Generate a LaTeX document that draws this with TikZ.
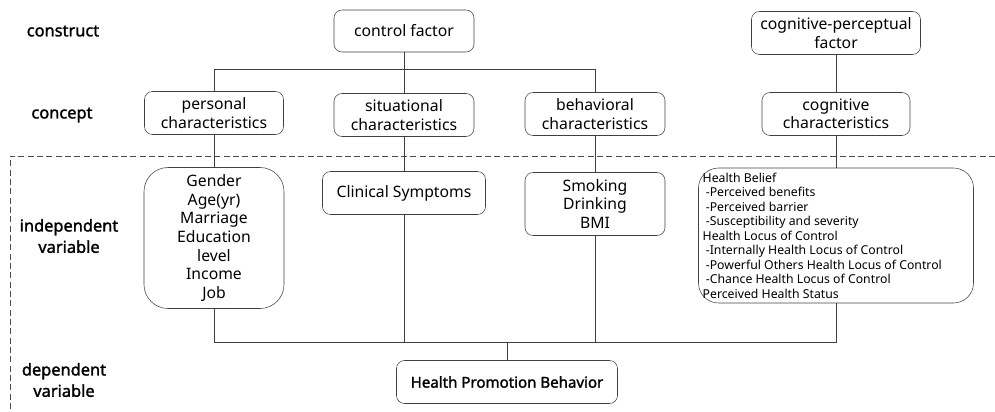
\documentclass[tikz,border=0pt]{standalone}
\usepackage{fontspec}
\setmainfont{Noto Sans}
\newfontfamily\heavyfont{Noto Sans}[FakeBold=1.6]
\tikzset{
  box/.style={draw=black!75, rounded corners=6pt, align=center, inner sep=0pt,
    font=\fontsize{11.8}{13.9}\selectfont},
  listbox/.style={box, rounded corners=15pt},
  rowlabel/.style={align=center, font=\heavyfont\fontsize{12.3}{16}\selectfont},
  link/.style={draw=black!75, line width=0.75pt},
}
\begin{document}
\begin{tikzpicture}[x=0.75pt,y=-0.75pt]
\useasboundingbox (0,0) rectangle (995,411);
% row labels
\node[rowlabel] (lconstruct) at (63,31) {construct};
\node[rowlabel] (lconcept) at (62,115) {concept};
\node[rowlabel] (lindep) at (69,236) {independent\\variable};
\node[rowlabel] (ldep) at (64,380) {dependent\\variable};
% construct
\node[box, minimum width=105pt, minimum height=31.5pt] (ctrl) at (404,31) {control factor};
\node[box, minimum width=126.75pt, minimum height=32.25pt] (cogp) at (836,33) {cognitive-perceptual\\factor};
% concept
\node[box, minimum width=104.25pt, minimum height=32.25pt] (pers) at (214,113) {personal\\characteristics};
\node[box, minimum width=105pt, minimum height=32.25pt] (sit) at (404,115) {situational\\characteristics};
\node[box, minimum width=105pt, minimum height=32.25pt] (beh) at (595,114) {behavioral\\characteristics};
\node[box, minimum width=111pt, minimum height=32.25pt] (cog) at (836,114) {cognitive\\characteristics};
% independent variables
\node[listbox, rounded corners=18pt, minimum width=105pt, minimum height=105.75pt] (gen) at (214,238)
  {Gender\\Age(yr)\\Marriage\\Education\\level\\Income\\Job};
\node[box, minimum width=122.25pt, minimum height=32.25pt] (clin) at (404,193) {Clinical Symptoms};
\node[box, minimum width=105pt, minimum height=47.25pt] (smk) at (595,204) {Smoking\\Drinking\\BMI};
\node[listbox, minimum width=206.25pt, minimum height=101.25pt, align=left,
  font=\fontsize{9.2}{10.9}\selectfont] (hb) at (836,235.5)
  {\makebox[200pt][l]{Health Belief}\\
   \ -Perceived benefits\\
   \ -Perceived barrier\\
   \ -Susceptibility and severity\\
   Health Locus of Control\\
   \ -Internally Health Locus of Control\\
   \ -Powerful Others Health Locus of Control\\
   \ -Chance Health Locus of Control\\
   Perceived Health Status};
% dependent variable
\node[box, minimum width=165.75pt, minimum height=32.25pt, font=\heavyfont\fontsize{11.3}{13.9}\selectfont] (hpb) at (507,382) {Health Promotion Behavior};
% separator
\draw[black!70, line width=0.7pt, dash pattern=on 4.5pt off 2.5pt] (995,156) -- (10,156) -- (10,411);
% connectors
\coordinate (top) at (404,69);
\coordinate (bot) at (507,342);
\draw[link] (ctrl) -- (sit);
\draw[link] (pers.north) -- (pers.north |- top) -- (beh.north |- top) -- (beh.north);
\draw[link] (cogp) -- (cog);
\draw[link] (pers) -- (gen);
\draw[link] (sit) -- (clin);
\draw[link] (beh) -- (smk);
\draw[link] (cog) -- (hb);
\draw[link] (gen.south) -- (gen.south |- bot) -- (hb.south |- bot) -- (hb.south);
\draw[link] (clin.south) -- (clin.south |- bot);
\draw[link] (smk.south) -- (smk.south |- bot);
\draw[link] (bot) -- (hpb);
\end{tikzpicture}
\end{document}
